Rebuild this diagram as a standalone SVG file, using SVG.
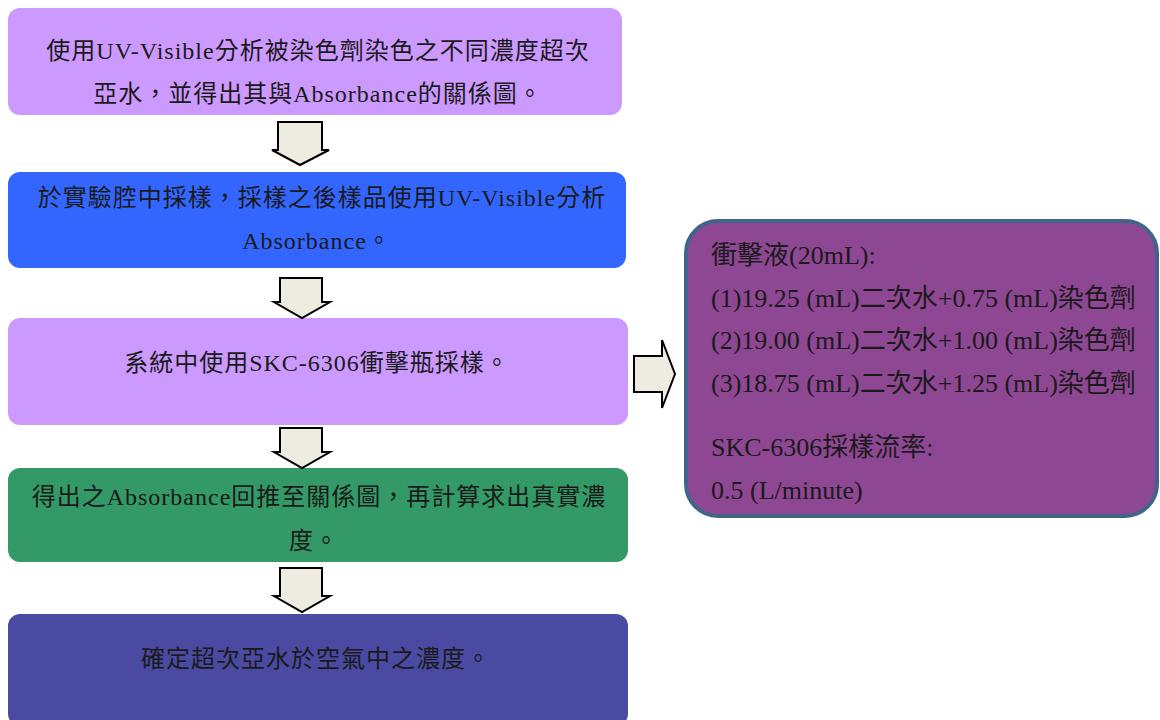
<svg xmlns="http://www.w3.org/2000/svg" width="1160" height="720" viewBox="0 0 1160 720">
<style>
.t{font-family:"Liberation Serif","Noto Sans CJK TC",serif;font-size:24px;fill:#1a1a1a;text-anchor:middle;letter-spacing:1px}
.r{font-family:"Liberation Serif","Noto Sans CJK TC",serif;font-size:26px;fill:#1a1a1a}
.arr{fill:#EEECE1;stroke:#000;stroke-width:2;stroke-linejoin:miter}
</style>
<rect width="1160" height="720" fill="#fff"/>
<g id="n1"><rect x="8" y="8" width="614" height="107" rx="12" fill="#CC99FF"/>
<text class="t" x="318" y="59">使用UV-Visible分析被染色劑染色之不同濃度超次</text>
<text class="t" x="318" y="102">亞水，並得出其與Absorbance的關係圖。</text></g>
<g id="n2"><rect x="8" y="172" width="618" height="96" rx="12" fill="#3366FF"/>
<text class="t" x="322" y="206">於實驗腔中採樣，採樣之後樣品使用UV-Visible分析</text>
<text class="t" x="317" y="249">Absorbance。</text></g>
<g id="n3"><rect x="8" y="318" width="620" height="107" rx="12" fill="#CC99FF"/>
<text class="t" x="317" y="371">系統中使用SKC-6306衝擊瓶採樣。</text></g>
<g id="n4"><rect x="8" y="468" width="620" height="94" rx="12" fill="#339966"/>
<text class="t" x="319" y="505">得出之Absorbance回推至關係圖，再計算求出真實濃</text>
<text class="t" x="314" y="549">度。</text></g>
<g id="n5"><rect x="8" y="614" width="620" height="112" rx="12" fill="#4A4AA2"/>
<text class="t" x="316" y="667">確定超次亞水於空氣中之濃度。</text></g>
<g id="n6"><rect x="686" y="221" width="471" height="295" rx="32" fill="#8E4792" stroke="#41648A" stroke-width="4"/>
<text class="r" x="711" y="264">衝擊液(20mL):</text>
<text class="r" x="711" y="307">(1)19.25 (mL)二次水+0.75 (mL)染色劑</text>
<text class="r" x="711" y="349">(2)19.00 (mL)二次水+1.00 (mL)染色劑</text>
<text class="r" x="711" y="392">(3)18.75 (mL)二次水+1.25 (mL)染色劑</text>
<text class="r" x="711" y="456">SKC-6306採樣流率:</text>
<text class="r" x="711" y="499">0.5 (L/minute)</text></g>
<g id="connectors">
<path class="arr" d="M278 122H322V150H329L300 165L272 150H278Z"/>
<path class="arr" d="M280 278H322V302H330L302 318L274 302H280Z"/>
<path class="arr" d="M280 428H322V452H330L302 468L274 452H280Z"/>
<path class="arr" d="M280 568H322V596H330L302 612L274 596H280Z"/>
<path class="arr" d="M634 356H662V340L675 374L662 408V392H634Z"/>
</g>
</svg>
